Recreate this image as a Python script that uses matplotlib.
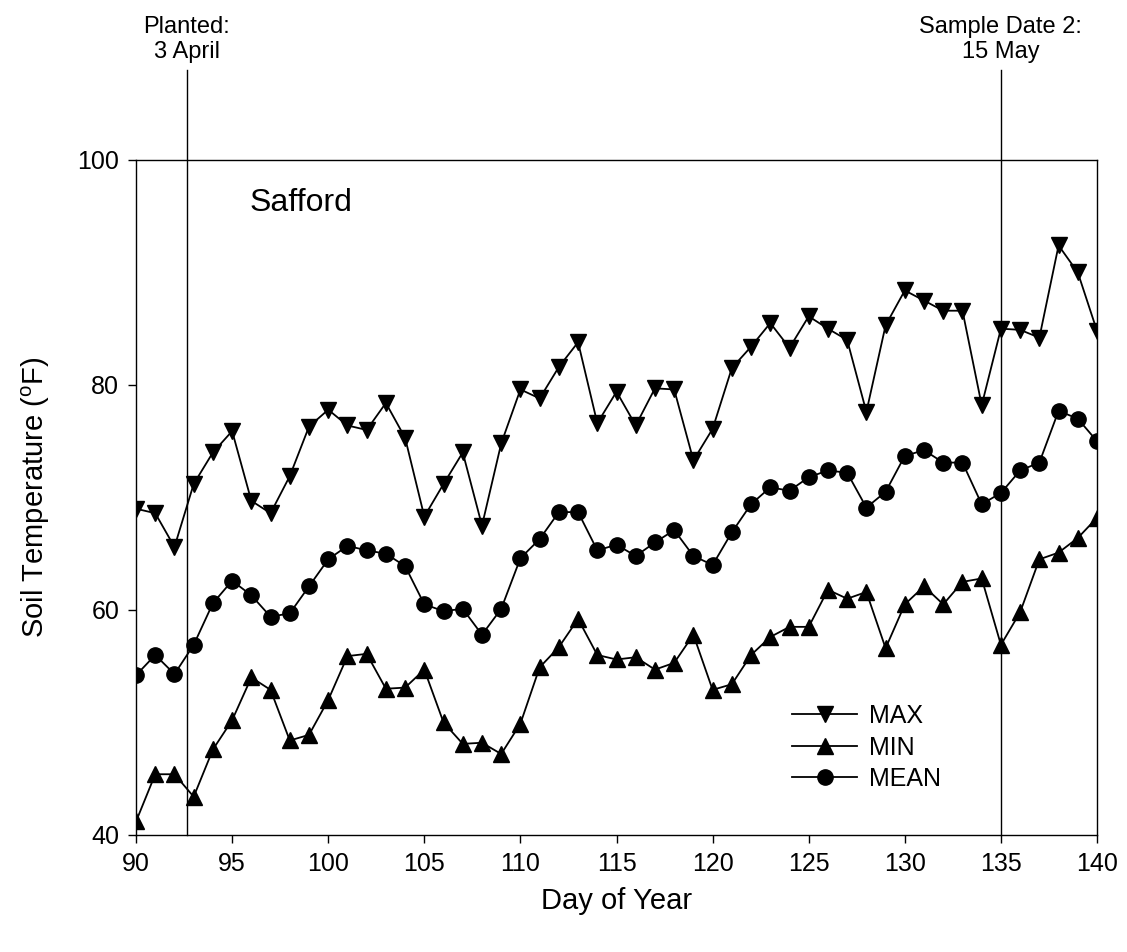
import matplotlib
matplotlib.use("Agg")
import matplotlib.pyplot as plt

plt.rcParams['font.family'] = ['Liberation Sans', 'DejaVu Sans']
plt.rcParams['mathtext.fontset'] = 'custom'
plt.rcParams['mathtext.rm'] = 'Liberation Sans'
plt.rcParams['mathtext.it'] = 'Liberation Sans'
plt.rcParams['mathtext.default'] = 'regular'

days = list(range(90, 141))

t_max = [69.0, 68.6, 65.6, 71.2, 74.0, 75.9, 69.7, 68.6, 71.9, 76.3,
         77.8, 76.4, 76.0, 78.4, 75.3, 68.3, 71.2, 74.0, 67.5, 74.8,
         79.6, 78.8, 81.6, 83.8, 76.6, 79.4, 76.4, 79.7, 79.6, 73.3,
         76.1, 81.5, 83.4, 85.5, 83.3, 86.1, 85.0, 84.0, 77.6, 85.3,
         88.4, 87.5, 86.6, 86.6, 78.2, 85.0, 84.9, 84.2, 92.4, 90.0,
         84.8]

t_min = [41.2, 45.4, 45.4, 43.4, 47.6, 50.2, 54.0, 52.9, 48.4, 48.9,
         52.0, 55.9, 56.1, 53.0, 53.1, 54.7, 50.0, 48.1, 48.2, 47.2,
         49.9, 54.9, 56.7, 59.2, 56.0, 55.6, 55.8, 54.7, 55.3, 57.8,
         52.9, 53.4, 56.0, 57.6, 58.5, 58.5, 61.8, 61.0, 61.6, 56.6,
         60.5, 62.1, 60.5, 62.5, 62.8, 56.9, 59.8, 64.5, 65.1, 66.4,
         68.2]

t_mean = [54.2, 56.0, 54.3, 56.9, 60.6, 62.6, 61.3, 59.4, 59.7, 62.1,
          64.5, 65.7, 65.3, 65.0, 63.9, 60.5, 59.9, 60.1, 57.8, 60.1,
          64.6, 66.3, 68.7, 68.7, 65.3, 65.8, 64.8, 66.0, 67.1, 64.8,
          64.0, 66.9, 69.4, 70.9, 70.6, 71.8, 72.4, 72.2, 69.1, 70.5,
          73.7, 74.2, 73.1, 73.1, 69.4, 70.4, 72.4, 73.1, 77.7, 77.0,
          75.0]

events = [92.65, 135]
event_labels = ['Planted:\n3 April', 'Sample Date 2:\n15 May']

fig = plt.figure(figsize=(11.27, 9.52), dpi=100)
ax = fig.add_axes([0.1207, 0.1229, 0.8527, 0.7091])

ax.plot(days, t_max, color='black', lw=1.3, marker='v', ms=12, label='MAX')
ax.plot(days, t_min, color='black', lw=1.3, marker='^', ms=12, label='MIN')
ax.plot(days, t_mean, color='black', lw=1.3, marker='o', ms=11, label='MEAN')

for x, lab in zip(events, event_labels):
    ax.plot([x, x], [40, 108], color='black', lw=1, clip_on=False)
    ax.text(x, 108.6, lab, ha='center', va='bottom', fontsize=17,
            linespacing=1.2, clip_on=False)

ax.text(95.9, 96.2, 'Safford', fontsize=23, ha='left', va='center')

ax.set_xlim(90, 140)
ax.set_ylim(40, 100)
ax.set_xticks(range(90, 141, 5))
ax.set_yticks([40, 60, 80, 100])
ax.tick_params(direction='out', length=6, width=1, labelsize=18, pad=6,
               top=False, right=False)
for s in ax.spines.values():
    s.set_linewidth(1)

ax.set_xlabel('Day of Year', fontsize=21, labelpad=8)
ax.set_ylabel('Soil Temperature ($^{o}$F)', fontsize=21, labelpad=18)

ax.legend(loc='lower left', bbox_to_anchor=(0.683, 0.065), frameon=False,
          fontsize=18, handlelength=2.6, handletextpad=0.45, labelspacing=0.3,
          borderpad=0, borderaxespad=0)

fig.savefig('out.png', dpi=100)
